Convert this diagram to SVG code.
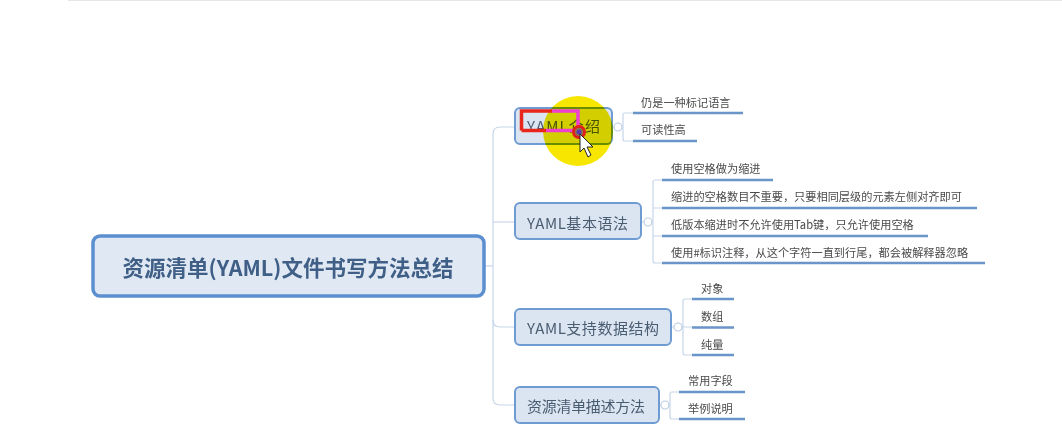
<svg xmlns="http://www.w3.org/2000/svg" width="1062" height="436" viewBox="0 0 1062 436">
<style>
text{font-family:"Noto Sans CJK SC","Liberation Sans",sans-serif;}
.root{fill:#e0e8f4;stroke:#5b8fd0;stroke-width:3.5}
.main{fill:#dbe5f2;stroke:#6d9bd2;stroke-width:2}
.mt{font-size:15px;fill:#4a5c70;text-anchor:middle;dominant-baseline:central}
.lt{font-size:11.200px;fill:#4a4a4a;dominant-baseline:central}
.ul{stroke:#6a95c8;stroke-width:2.500;fill:none}
.c{stroke:#c6d6ea;stroke-width:1.200;fill:none}
.o{fill:#fff;stroke:#b8cbe2;stroke-width:1.100}
</style>
<rect width="1062" height="436" fill="#fff"/>
<path d="M68 0.5H1062" stroke="#e6e6e6" stroke-width="1"/>
<g id="connectors">
<path class="c" d="M485 266H493"/>
<path class="c" d="M514 127H500Q493 127 493 134V398Q493 405 500 405H514"/>
<path class="c" d="M493 222H514"/>
<path class="c" d="M493 320Q493 327 500 327H514"/>
<path class="c" d="M612 127H622M633 113H625Q623 113 623 115V139Q623 141 625 141H633"/>
<path class="c" d="M641 222H653M662 180H655Q653 180 653 182V261Q653 263 655 263H662M653 208H662M653 236H662"/>
<path class="c" d="M671 327H692M692 299H685Q683 299 683 301V353Q683 355 685 355H692"/>
<path class="c" d="M659 405H670M679 392H672Q670 392 670 394V417Q670 419 672 419H679"/>
<circle class="o" cx="618" cy="127" r="4"/>
<circle class="o" cx="648" cy="222" r="4"/>
<circle class="o" cx="678" cy="327" r="4"/>
<circle class="o" cx="665" cy="405" r="4"/>
</g>
<g id="root"><rect class="root" x="93" y="236" width="391" height="60" rx="7"/>
<text x="288" y="266" font-size="21.500" font-weight="700" fill="#3f5f86" text-anchor="middle" dominant-baseline="central">资源清单(YAML)文件书写方法总结</text></g>
<g id="n1"><rect class="main" x="515" y="108" width="97" height="36" rx="5"/><text class="mt" x="563.500" y="125" textLength="73">YAML介绍</text></g>
<g id="n2"><rect class="main" x="515" y="203" width="126" height="36" rx="5"/><text class="mt" x="577.500" y="222" textLength="101">YAML基本语法</text></g>
<g id="n3"><rect class="main" x="515" y="309" width="156" height="36" rx="5"/><text class="mt" x="593" y="327" textLength="132">YAML支持数据结构</text></g>
<g id="n4"><rect class="main" x="515" y="387" width="144" height="36" rx="5"/><text class="mt" x="586" y="405" textLength="118">资源清单描述方法</text></g>
<g id="l1"><text class="lt" x="641" y="102">仍是一种标记语言</text><path class="ul" d="M633 113H743"/></g>
<g id="l2"><text class="lt" x="641" y="129">可读性高</text><path class="ul" d="M633 141H697"/></g>
<g id="l3"><text class="lt" x="671" y="168">使用空格做为缩进</text><path class="ul" d="M662 180H773"/></g>
<g id="l4"><text class="lt" x="671" y="196">缩进的空格数目不重要，只要相同层级的元素左侧对齐即可</text><path class="ul" d="M662 208H977"/></g>
<g id="l5"><text class="lt" x="671" y="224">低版本缩进时不允许使用Tab键，只允许使用空格</text><path class="ul" d="M662 236H928"/></g>
<g id="l6"><text class="lt" x="671" y="252">使用#标识注释，从这个字符一直到行尾，都会被解释器忽略</text><path class="ul" d="M662 263H985"/></g>
<g id="l7"><text class="lt" x="701" y="288">对象</text><path class="ul" d="M692 299H734"/></g>
<g id="l8"><text class="lt" x="701" y="316">数组</text><path class="ul" d="M692 327.500H734"/></g>
<g id="l9"><text class="lt" x="701" y="344">纯量</text><path class="ul" d="M692 355H734"/></g>
<g id="l10"><text class="lt" x="688" y="380">常用字段</text><path class="ul" d="M679 392H745"/></g>
<g id="l11"><text class="lt" x="688" y="408">举例说明</text><path class="ul" d="M679 419H745"/></g>
<circle cx="578" cy="131" r="35" fill="#f6e600" style="mix-blend-mode:multiply"/>
<path d="M521.500 130.500V111H552" fill="none" stroke="#e8261c" stroke-width="3.500"/>
<path d="M521.500 130.500H546" fill="none" stroke="#e8261c" stroke-width="3.500"/>
<path d="M546 130.500H578V111H552" fill="none" stroke="#ee3fd0" stroke-width="3.500"/>
<circle cx="579" cy="132" r="5.500" fill="#8a7a50" stroke="#e0201a" stroke-width="3"/>
<circle cx="579" cy="132" r="2.500" fill="#5a3ab0"/>
<path d="M580 134V152L584 148L588 157L591 155L587 147L593 147Z" fill="#fff" stroke="#222" stroke-width="1"/>
</svg>
